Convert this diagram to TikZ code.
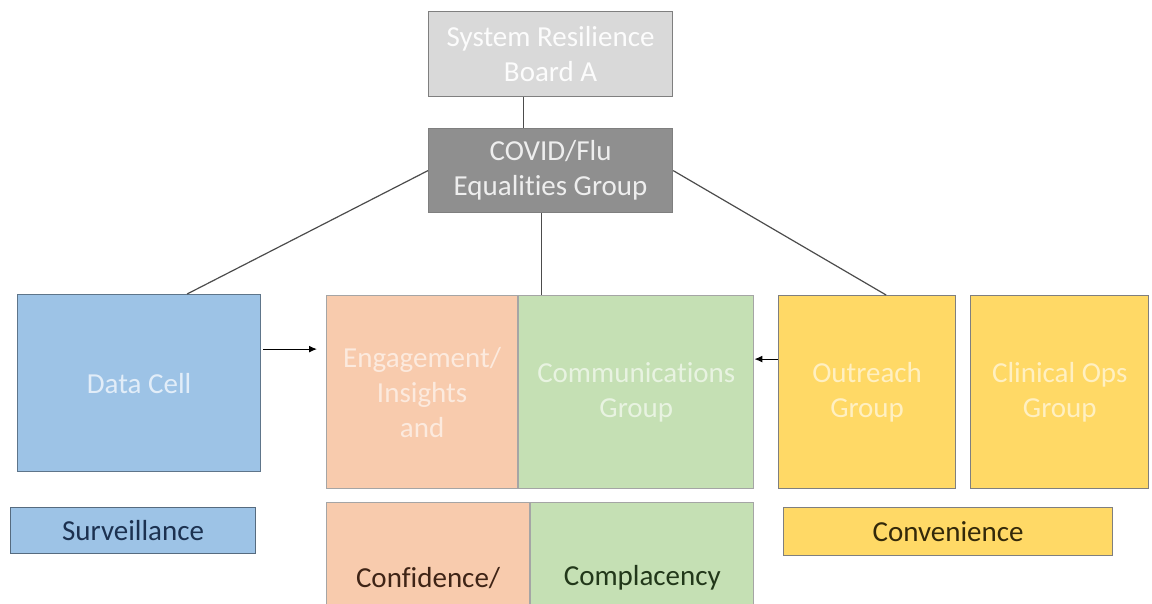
\documentclass[tikz,border=0pt]{standalone}
\usepackage{fontspec}
\setmainfont[Ligatures=NoCommon,Contextuals=NoAlternate,RawFeature={-liga;-clig;-dlig}]{Carlito}
\usepackage {tikz}
\usetikzlibrary {positioning,arrows.meta}

\definecolor{boardfill}{HTML}{D9D9D9}
\definecolor{covidfill}{HTML}{8F8F8F}
\definecolor{bluefill}{HTML}{9DC3E6}
\definecolor{orangefill}{HTML}{F8CBAD}
\definecolor{greenfill}{HTML}{C5E0B4}
\definecolor{yellowfill}{HTML}{FFD966}
\definecolor{edgegray}{HTML}{7F7F7F}
\definecolor{navytext}{HTML}{1C3150}
\definecolor{browntext}{HTML}{3F2416}
\definecolor{greentext}{HTML}{22381A}
\definecolor{darktext}{HTML}{33290A}

\begin{document}
\begin{tikzpicture}[x=1pt, y=-1pt, line width=1.2pt,
                    group node/.style={rectangle,draw=edgegray,anchor=north west,inner sep=0pt,
                      align=center,font=\fontsize{29}{35}\selectfont},
                    theme node/.style={group node},
                    feed/.style={draw=black,-{Latex[length=8pt,width=7pt]}}]

  \useasboundingbox (0,0) rectangle (1152,603);

  \node[group node,fill=boardfill,text=white!92!boardfill,minimum width=244pt,minimum height=85pt] (board) at (428,11) {System Resilience\\Board A};
  \node[group node,fill=covidfill,text=white!85!covidfill,minimum width=244pt,minimum height=84pt] (covid) at (428,128) {COVID/Flu\\Equalities Group};

  \node[group node,draw=bluefill!60!black,fill=bluefill,text=white!70!bluefill,minimum width=243pt,minimum height=177pt] (data) at (17,294) {Data Cell};
  \node[group node,draw=edgegray!70,fill=orangefill,text=white!60!orangefill,minimum width=191pt,minimum height=193pt] (eng) at (326,295) {Engagement/\\Insights\\and};
  \node[group node,draw=edgegray!70,fill=greenfill,text=white!60!greenfill,minimum width=235pt,minimum height=193pt,right=0pt of eng] (comms) {Communications\\Group};
  \node[group node,fill=yellowfill,text=white!60!yellowfill,minimum width=177pt,minimum height=193pt] (outreach) at (778,295) {Outreach\\Group};
  \node[group node,fill=yellowfill,text=white!60!yellowfill,minimum width=178pt,minimum height=193pt,right=14pt of outreach] (clinical) {Clinical Ops\\Group};

  \node[theme node,draw=bluefill!55!black,fill=bluefill,text=navytext,minimum width=245pt,minimum height=46pt] (surv) at (10,507) {Surveillance};
  \node[theme node,draw=edgegray!70,fill=orangefill,text=browntext,minimum width=203pt,minimum height=150pt] (conf) at (326,502) {Confidence/};
  \node[theme node,draw=edgegray!70,fill=greenfill,text=greentext,minimum width=223pt,minimum height=150pt,right=0pt of conf] (compl) {Complacency};
  \node[theme node,draw=edgegray,fill=yellowfill,text=darktext,minimum width=329pt,minimum height=48pt] (conv) at (783,507) {Convenience};

  \path[draw=black!70]
    ([xshift=-27pt]board.south) edge ([xshift=-27pt]covid.north)
    (covid.west) edge ([xshift=48pt]data.north)
    (covid.east) edge ([xshift=19pt]outreach.north)
    ([xshift=-9pt]covid.south) edge ([xshift=-9pt]covid.south |- comms.north)
;
  \draw[feed,shorten <=2pt,shorten >=9pt] ([yshift=34pt]data.east) -- ([yshift=34pt]data.east -| eng.west);
  \draw[feed] ([yshift=33pt]outreach.west) -- ([yshift=33pt]outreach.west -| comms.east);
\end{tikzpicture}
\end{document}
